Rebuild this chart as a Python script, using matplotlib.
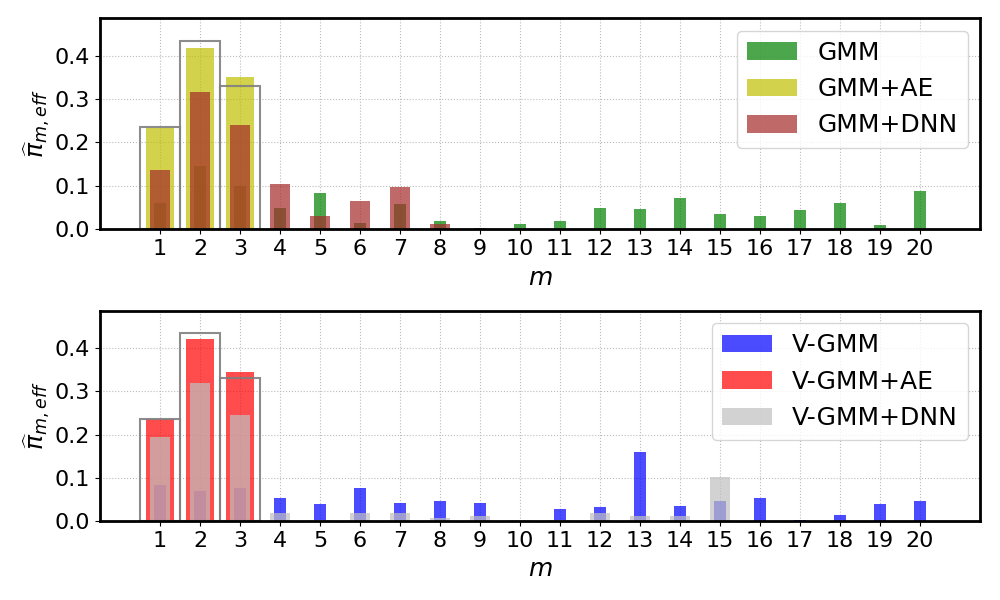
import matplotlib
matplotlib.use("Agg")
import matplotlib.pyplot as plt
import numpy as np

m = list(range(1, 21))
true_pi = [0.235, 0.435, 0.331]

gmm = [0.060, 0.145, 0.099, 0.048, 0.083, 0.014, 0.057, 0.018, 0.002, 0.0115,
       0.018, 0.048, 0.046, 0.071, 0.036, 0.030, 0.044, 0.060, 0.009, 0.087]
gmm_ae = [0.234, 0.417, 0.352, 0, 0, 0, 0, 0, 0, 0,
          0, 0, 0, 0, 0, 0, 0, 0, 0, 0]
gmm_dnn = [0.136, 0.316, 0.240, 0.104, 0.030, 0.0645, 0.097, 0.0115, 0, 0,
           0, 0, 0, 0, 0, 0, 0, 0, 0, 0]

vgmm = [0.084, 0.068, 0.077, 0.054, 0.040, 0.075, 0.042, 0.045, 0.042, 0.0005,
        0.028, 0.031, 0.160, 0.035, 0.047, 0.052, 0.003, 0.0145, 0.040, 0.047]
vgmm_ae = [0.236, 0.422, 0.3455, 0, 0, 0, 0, 0, 0, 0,
           0, 0, 0, 0, 0, 0, 0, 0, 0, 0]
vgmm_dnn = [0.195, 0.320, 0.246, 0.017, 0.003, 0.019, 0.019, 0.0075, 0.012, 0.003,
            0.003, 0.019, 0.012, 0.012, 0.1025, 0, 0, 0, 0, 0]

fig = plt.figure(figsize=(10, 6), dpi=100)
ax1 = fig.add_axes([0.1, 0.618, 0.88, 0.352])
ax2 = fig.add_axes([0.1, 0.132, 0.88, 0.35])

def panel(ax, s1, s2, s3, labels, colors):
    ax.set_axisbelow(True)
    ax.grid(True, linestyle=':', color='#bbbbbb', linewidth=0.8)
    ax.bar(m, s1, width=0.3, color=colors[0], alpha=0.7, label=labels[0])
    ax.bar(m, s2, width=0.7, color=colors[1], alpha=0.7, label=labels[1])
    ax.bar(m, s3, width=0.5, color=colors[2], alpha=0.7, label=labels[2])
    ax.bar(m[:3], true_pi, width=1.0, facecolor='none', edgecolor='gray',
           linewidth=1.5, alpha=0.9)
    ax.set_xlim(-0.5, 21.5)
    ax.set_ylim(0, 0.487)
    ax.set_xticks(m)
    ax.set_xticklabels([str(i) for i in m], fontsize=16)
    ax.set_yticks([0.0, 0.1, 0.2, 0.3, 0.4])
    ax.set_yticklabels(['0.0', '0.1', '0.2', '0.3', '0.4'], fontsize=16)
    ax.set_xlabel(r'$m$', fontsize=18, labelpad=5)
    ax.set_ylabel(r'$\widehat{\pi}_{m,eff}$', fontsize=18, labelpad=2)
    for sp in ax.spines.values():
        sp.set_linewidth(2)
    ax.legend(loc='upper right', fontsize=18, handlelength=2.0,
              borderaxespad=0.5)

panel(ax1, gmm, gmm_ae, gmm_dnn, ['GMM', 'GMM+AE', 'GMM+DNN'],
      ['green', 'y', 'brown'])
panel(ax2, vgmm, vgmm_ae, vgmm_dnn, ['V-GMM', 'V-GMM+AE', 'V-GMM+DNN'],
      ['blue', 'red', 'silver'])

fig.savefig('out.png', dpi=100)
